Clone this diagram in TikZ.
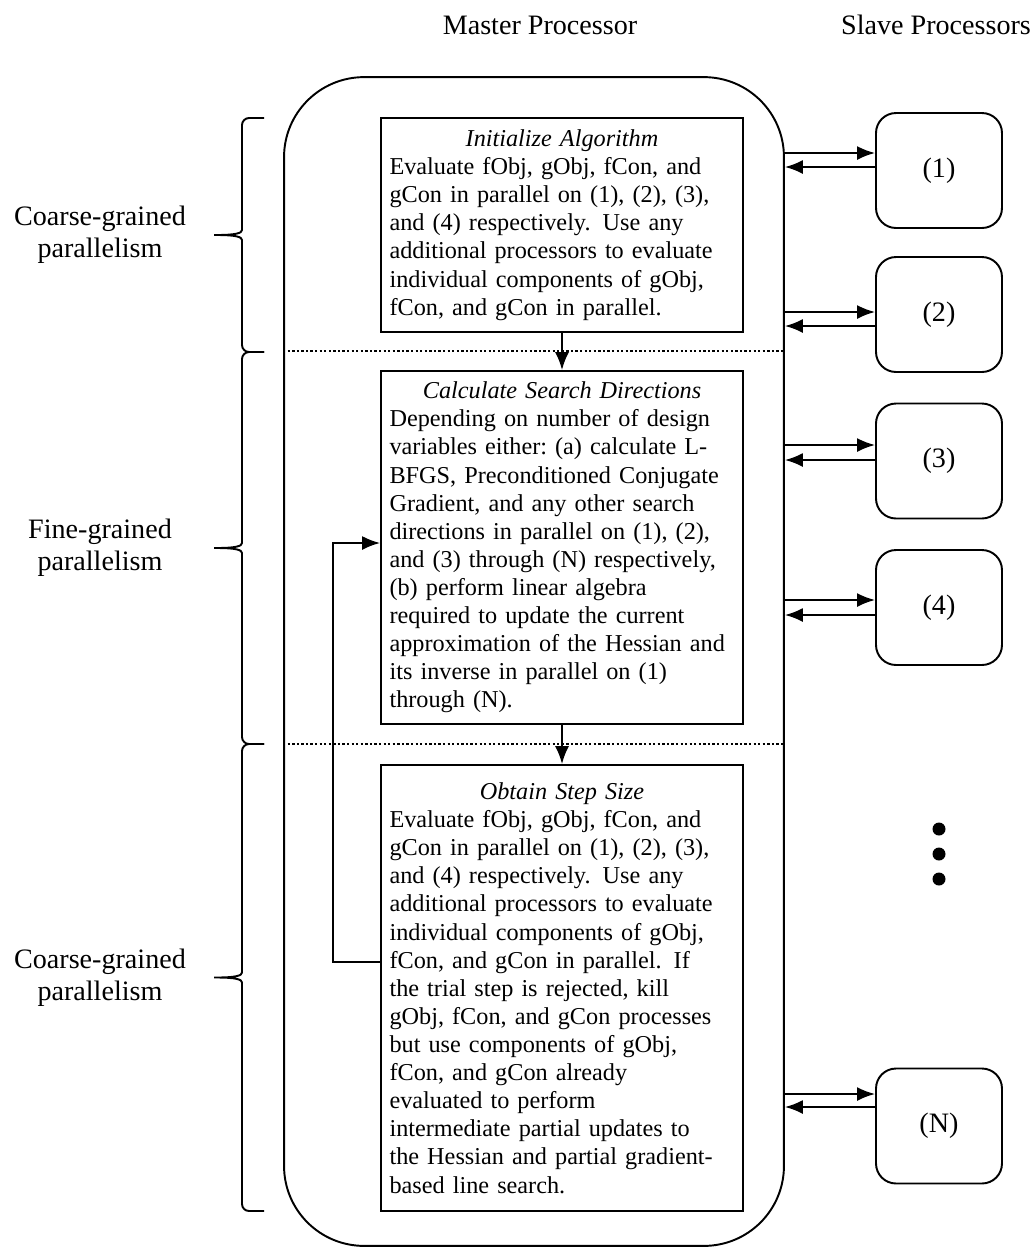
\documentclass[tikz,border=0pt]{standalone}
\usepackage{fontspec}
\setmainfont{Liberation Serif}
\usetikzlibrary{arrows.meta}

\hyphenpenalty=10000
\exhyphenpenalty=10000
\def\taskwidth{7.24cm}
\def\slavesep{0.4cm}

\begin{document}
\begin{tikzpicture}[x=0.02cm,y=-0.02cm,line width=1.1pt,>={Latex[length=3.6mm,width=2.8mm]}]
    \tikzstyle{master}=[draw,rounded corners=1.6cm,minimum width=10cm,minimum height=23.38cm,inner sep=0pt]
    \tikzstyle{task}=[draw,minimum width=\taskwidth,text width=6.9cm,inner sep=0pt,align=left,font=\fontsize{13.8}{16}\selectfont]
    \tikzstyle{slave}=[draw,rounded corners=\slavesep,minimum width=2.52cm,minimum height=2.3cm,font=\fontsize{16}{18}\selectfont]
    \tikzstyle{annot}=[align=center,font=\fontsize{16}{18}\selectfont]
    \tikzstyle{brace}=[rounded corners=4pt]

    \useasboundingbox (0,0) rectangle (1034,1249);

    % Column titles
    \node[annot] (master title) at (540,25) {Master Processor};
    \node[annot] (slave title) at (936,25) {Slave Processors};

    % Draw the master processor and its three steps
    \node[master] (M) at (534,661.5) {};
    \node[task,minimum height=4.28cm] (T-1) at (562,225) {%
        {\centering\itshape Initialize Algorithm\par}
        Evaluate fObj, gObj, fCon, and\\
        gCon in parallel on (1), (2), (3),\\
        and (4) respectively.  Use any\\
        additional processors to evaluate\\
        individual components of gObj,\\
        fCon, and gCon in parallel.};
    \node[task,minimum height=7.06cm] (T-2) at (562,547.5) {%
        {\centering\itshape Calculate Search Directions\par}
        Depending on number of design\\
        variables either:\ (a) calculate L-\\
        BFGS, Preconditioned Conjugate\\
        Gradient, and any other search\\
        directions in parallel on (1), (2),\\
        and (3) through (N) respectively,\\
        (b) perform linear algebra\\
        required to update the current\\
        approximation of the Hessian and\\
        its inverse in parallel on (1)\\
        through (N).};
    \node[task,minimum height=8.92cm] (T-3) at (562,988) {%
        {\centering\itshape Obtain Step Size\par}
        Evaluate fObj, gObj, fCon, and\\
        gCon in parallel on (1), (2), (3),\\
        and (4) respectively.  Use any\\
        additional processors to evaluate\\
        individual components of gObj,\\
        fCon, and gCon in parallel.  If\\
        the trial step is rejected, kill\\
        gObj, fCon, and gCon processes\\
        but use components of gObj,\\
        fCon, and gCon already\\
        evaluated to perform\\
        intermediate partial updates to\\
        the Hessian and partial gradient-\\
        based line search.};

    \draw[->] (T-1) -- (T-2);
    \draw[->] (T-2) -- (T-3);

    % Loop back from the step size to the search directions
    \coordinate (back) at (333,962);
    \draw[->] (T-3.west |- back) -- (back) |- (T-2.west |- 0,543);

    % Dotted dividers between the phases
    \foreach \y in {351,744}
        \draw[line width=1.3pt,dash pattern=on 1.3pt off 1.3pt] (M.west |- 0,\y) -- (M.east |- 0,\y);

    % Draw the slave processors
    \foreach \name / \y in {1/170.5,2/314.5,3/461,4/607.5,N/1126}
        \node[slave] (S-\name) at (939,\y) {(\name)};
    \foreach \y in {829,854,879}
        \fill (939,\y) circle (0.13cm);

    % Connect the master with every slave
    \foreach \name / \out / \in in {1/153/167,2/312/326,3/445/460,4/600/615,N/1094/1107} {
        \draw[->] (M.east |- 0,\out) -- (S-\name.west |- 0,\out);
        \draw[->] (S-\name.west |- 0,\in) -- (M.east |- 0,\in);
    }

    % Annotate the kinds of parallelism
    \foreach \top / \bot / \what in {118/352/Coarse,352/744/Fine,744/1211/Coarse} {
        \pgfmathsetmacro\ymid{(\top+\bot)/2}
        \draw[brace] (264,\top) -- (242,\top) -- (242,\ymid-12)
            .. controls (242,\ymid-2) and (236,\ymid) .. (210,\ymid)
            .. controls (236,\ymid) and (242,\ymid+2) .. (242,\ymid+12)
            -- (242,\bot) -- (264,\bot);
        \node[annot] (L-\what-\top) at (100,\ymid) {\what-grained\\parallelism};
    }
\end{tikzpicture}
\end{document}
